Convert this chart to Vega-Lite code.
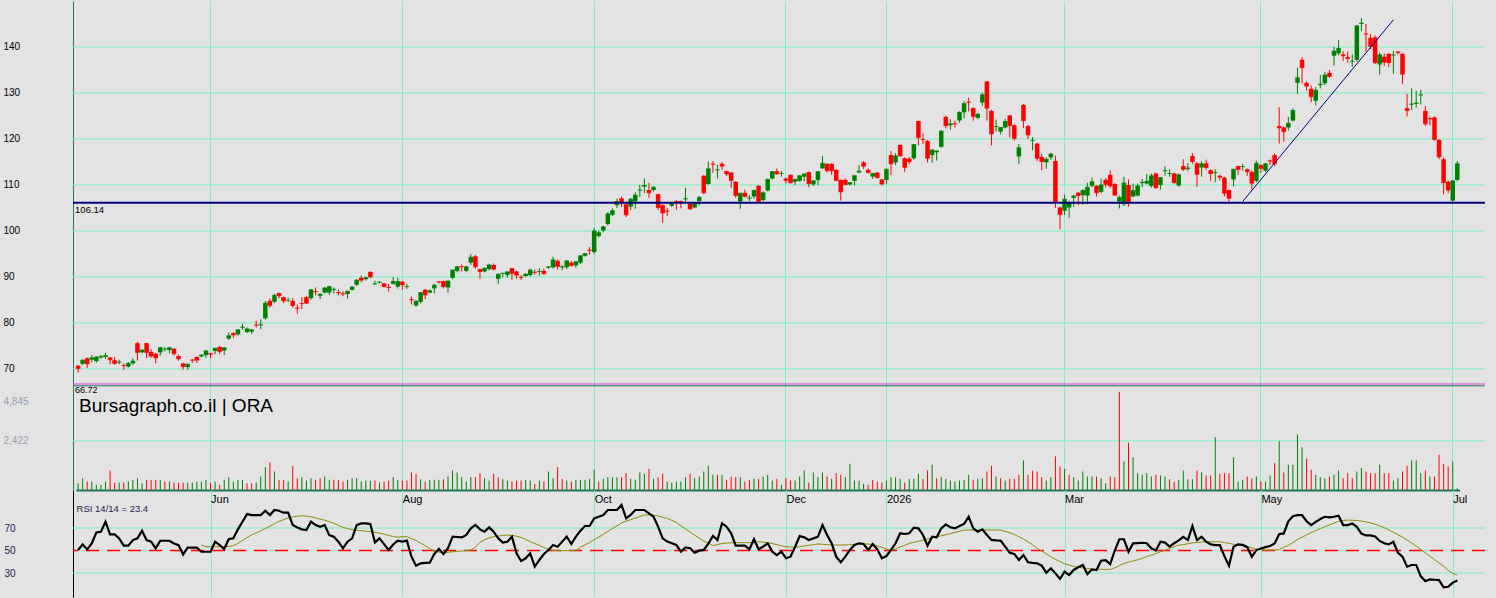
{
  "$schema": "https://vega.github.io/schema/vega-lite/v6.json",
  "background": "#e3e3e3",
  "padding": {"left": 3, "top": 1, "right": 11, "bottom": 1},
  "bounds": "flush",
  "spacing": 0,
  "datasets": {
    "px": [
      {"d":"2025-04-22","o":70.7,"h":70.9,"l":69.2,"c":70.1,"v":330,"r":50.4},
      {"d":"2025-04-23","o":71.1,"h":72.1,"l":70.8,"c":71.9,"v":580,"r":55.4},
      {"d":"2025-04-24","o":72.3,"h":72.5,"l":70.2,"c":71.1,"v":415,"r":51.0},
      {"d":"2025-04-25","o":72.0,"h":73.0,"l":71.4,"c":72.4,"v":415,"r":56.3},
      {"d":"2025-04-28","o":71.7,"h":72.7,"l":71.3,"c":72.6,"v":250,"r":66.1},
      {"d":"2025-04-29","o":72.5,"h":73.0,"l":72.2,"c":72.7,"v":250,"r":66.7},
      {"d":"2025-04-30","o":72.6,"h":73.5,"l":72.2,"c":72.9,"v":415,"r":75.6},
      {"d":"2025-05-01","o":72.5,"h":72.6,"l":71.0,"c":72.0,"v":960,"r":64.3},
      {"d":"2025-05-02","o":71.9,"h":72.6,"l":70.9,"c":71.2,"v":365,"r":64.3},
      {"d":"2025-05-05","o":71.4,"h":72.0,"l":71.0,"c":71.5,"v":365,"r":60.8},
      {"d":"2025-05-06","o":70.8,"h":71.2,"l":69.8,"c":70.7,"v":365,"r":54.3},
      {"d":"2025-05-07","o":70.5,"h":71.5,"l":70.3,"c":71.2,"v":415,"r":54.3},
      {"d":"2025-05-08","o":71.2,"h":72.3,"l":70.9,"c":71.7,"v":500,"r":59.3},
      {"d":"2025-05-09","o":75.6,"h":75.9,"l":71.8,"c":73.6,"v":580,"r":60.8},
      {"d":"2025-05-12","o":73.6,"h":74.3,"l":73.4,"c":74.1,"v":330,"r":67.6},
      {"d":"2025-05-13","o":75.6,"h":75.7,"l":72.3,"c":73.6,"v":500,"r":59.3},
      {"d":"2025-05-14","o":73.7,"h":74.3,"l":72.4,"c":72.8,"v":500,"r":57.8},
      {"d":"2025-05-15","o":73.3,"h":73.5,"l":71.2,"c":72.4,"v":500,"r":51.9},
      {"d":"2025-05-16","o":73.6,"h":74.8,"l":72.9,"c":74.6,"v":500,"r":58.7},
      {"d":"2025-05-19","o":74.3,"h":74.8,"l":73.8,"c":74.3,"v":415,"r":58.7},
      {"d":"2025-05-20","o":74.1,"h":74.8,"l":73.4,"c":74.6,"v":415,"r":58.7},
      {"d":"2025-05-21","o":74.4,"h":74.5,"l":72.9,"c":73.3,"v":365,"r":56.3},
      {"d":"2025-05-22","o":72.8,"h":73.1,"l":71.8,"c":72.2,"v":365,"r":54.8},
      {"d":"2025-05-23","o":71.2,"h":71.4,"l":69.8,"c":70.5,"v":365,"r":46.5},
      {"d":"2025-05-26","o":70.4,"h":71.2,"l":69.8,"c":71.0,"v":365,"r":52.5},
      {"d":"2025-05-27","o":72.0,"h":72.1,"l":71.3,"c":71.9,"v":365,"r":52.5},
      {"d":"2025-05-28","o":72.6,"h":72.7,"l":71.3,"c":71.9,"v":415,"r":52.5},
      {"d":"2025-05-29","o":72.7,"h":73.2,"l":72.5,"c":73.0,"v":415,"r":48.9,"m":54.8},
      {"d":"2025-05-30","o":73.0,"h":74.2,"l":72.4,"c":73.9,"v":500,"r":48.9,"m":53.4},
      {"d":"2025-06-03","o":73.4,"h":73.5,"l":72.3,"c":73.2,"v":365,"r":48.9,"m":53.4},
      {"d":"2025-06-04","o":73.9,"h":74.6,"l":73.2,"c":74.5,"v":415,"r":57.8,"m":53.4},
      {"d":"2025-06-05","o":74.8,"h":74.9,"l":73.2,"c":73.8,"v":250,"r":54.8,"m":53.4},
      {"d":"2025-06-06","o":74.0,"h":74.7,"l":73.0,"c":74.6,"v":500,"r":51.3,"m":53.4},
      {"d":"2025-06-09","o":76.6,"h":77.9,"l":76.3,"c":77.2,"v":630,"r":60.2,"m":53.6},
      {"d":"2025-06-10","o":77.8,"h":78.0,"l":76.8,"c":77.4,"v":415,"r":60.8,"m":54.2},
      {"d":"2025-06-11","o":77.5,"h":78.6,"l":77.2,"c":78.5,"v":500,"r":68.8,"m":56.3},
      {"d":"2025-06-12","o":79.0,"h":79.8,"l":78.5,"c":79.1,"v":500,"r":75.6,"m":58.9},
      {"d":"2025-06-13","o":78.0,"h":79.0,"l":77.8,"c":78.7,"v":330,"r":82.4,"m":61.5},
      {"d":"2025-06-16","o":78.1,"h":78.6,"l":77.6,"c":78.5,"v":330,"r":81.5,"m":63.9},
      {"d":"2025-06-17","o":79.6,"h":80.5,"l":79.0,"c":79.5,"v":365,"r":81.5,"m":65.7},
      {"d":"2025-06-18","o":79.5,"h":80.8,"l":78.6,"c":79.6,"v":665,"r":81.5,"m":67.5},
      {"d":"2025-06-19","o":81.0,"h":84.8,"l":80.7,"c":84.3,"v":1130,"r":85.4,"m":69.6},
      {"d":"2025-06-20","o":84.8,"h":85.3,"l":83.3,"c":83.8,"v":1360,"r":81.5,"m":71.6},
      {"d":"2025-06-23","o":84.6,"h":86.3,"l":84.3,"c":86.0,"v":910,"r":86.0,"m":73.9},
      {"d":"2025-06-24","o":86.5,"h":86.6,"l":85.3,"c":85.9,"v":500,"r":85.4,"m":75.9},
      {"d":"2025-06-25","o":85.6,"h":85.7,"l":84.3,"c":84.8,"v":500,"r":83.6,"m":77.4},
      {"d":"2025-06-26","o":84.9,"h":85.5,"l":84.5,"c":84.9,"v":415,"r":83.6,"m":78.9},
      {"d":"2025-06-27","o":84.8,"h":85.4,"l":83.3,"c":83.8,"v":1195,"r":72.6,"m":79.9},
      {"d":"2025-06-30","o":83.3,"h":84.0,"l":82.0,"c":83.2,"v":580,"r":70.5,"m":80.5},
      {"d":"2025-07-01","o":84.3,"h":85.6,"l":83.0,"c":84.2,"v":630,"r":68.8,"m":80.9},
      {"d":"2025-07-02","o":85.6,"h":85.8,"l":84.2,"c":84.3,"v":465,"r":68.2,"m":80.5},
      {"d":"2025-07-03","o":85.4,"h":87.4,"l":85.0,"c":87.2,"v":580,"r":75.6,"m":79.9},
      {"d":"2025-07-07","o":86.9,"h":87.7,"l":86.0,"c":86.8,"v":500,"r":72.6,"m":79.0},
      {"d":"2025-07-08","o":85.9,"h":86.5,"l":85.2,"c":86.2,"v":580,"r":71.1,"m":78.0},
      {"d":"2025-07-09","o":86.6,"h":87.8,"l":86.4,"c":87.6,"v":665,"r":72.6,"m":76.9},
      {"d":"2025-07-10","o":86.6,"h":88.1,"l":86.1,"c":87.9,"v":500,"r":63.7,"m":75.6},
      {"d":"2025-07-11","o":87.2,"h":87.7,"l":86.4,"c":87.3,"v":500,"r":62.2,"m":74.2},
      {"d":"2025-07-14","o":86.7,"h":87.3,"l":86.0,"c":86.6,"v":500,"r":57.8,"m":72.3},
      {"d":"2025-07-15","o":86.4,"h":86.9,"l":85.8,"c":86.3,"v":415,"r":51.9,"m":70.6},
      {"d":"2025-07-16","o":86.3,"h":87.0,"l":85.3,"c":86.9,"v":500,"r":57.8,"m":69.5},
      {"d":"2025-07-17","o":87.2,"h":88.0,"l":87.0,"c":87.8,"v":580,"r":60.8,"m":68.5},
      {"d":"2025-07-18","o":88.3,"h":89.5,"l":88.0,"c":89.3,"v":580,"r":72.6,"m":68.0},
      {"d":"2025-07-21","o":89.8,"h":90.3,"l":88.8,"c":89.3,"v":415,"r":74.1,"m":67.6},
      {"d":"2025-07-22","o":89.5,"h":90.1,"l":89.2,"c":89.8,"v":465,"r":74.1,"m":67.2},
      {"d":"2025-07-23","o":91.1,"h":91.2,"l":89.7,"c":90.0,"v":465,"r":73.5,"m":66.8},
      {"d":"2025-07-24","o":88.4,"h":89.2,"l":88.3,"c":88.5,"v":465,"r":57.2,"m":66.2},
      {"d":"2025-07-25","o":88.8,"h":89.0,"l":88.6,"c":88.9,"v":365,"r":60.8,"m":65.5},
      {"d":"2025-07-28","o":88.6,"h":88.7,"l":87.7,"c":87.9,"v":415,"r":55.7,"m":64.5},
      {"d":"2025-07-29","o":87.8,"h":88.5,"l":86.8,"c":87.7,"v":465,"r":50.4,"m":63.4},
      {"d":"2025-07-30","o":88.5,"h":90.0,"l":88.3,"c":89.0,"v":630,"r":55.4,"m":62.5},
      {"d":"2025-07-31","o":87.9,"h":89.8,"l":87.5,"c":89.0,"v":500,"r":58.7,"m":61.8},
      {"d":"2025-08-01","o":89.0,"h":89.1,"l":87.2,"c":88.3,"v":465,"r":57.9,"m":62.3},
      {"d":"2025-08-04","o":87.8,"h":88.5,"l":87.4,"c":87.9,"v":465,"r":58.8,"m":62.3},
      {"d":"2025-08-05","o":85.1,"h":85.7,"l":84.0,"c":85.0,"v":865,"r":44.5,"m":60.5},
      {"d":"2025-08-06","o":83.8,"h":85.0,"l":83.5,"c":84.7,"v":800,"r":36.5,"m":59.0},
      {"d":"2025-08-07","o":84.6,"h":86.7,"l":84.2,"c":86.6,"v":530,"r":38.6,"m":56.6},
      {"d":"2025-08-08","o":87.2,"h":87.4,"l":85.2,"c":86.1,"v":415,"r":39.0,"m":54.3},
      {"d":"2025-08-11","o":86.6,"h":87.3,"l":86.4,"c":87.0,"v":500,"r":39.2,"m":51.6},
      {"d":"2025-08-12","o":87.5,"h":88.5,"l":86.4,"c":88.2,"v":500,"r":47.0,"m":49.3},
      {"d":"2025-08-13","o":89.0,"h":89.1,"l":88.5,"c":88.9,"v":500,"r":51.4,"m":48.7},
      {"d":"2025-08-14","o":89.1,"h":89.2,"l":87.5,"c":87.9,"v":530,"r":46.9,"m":48.2},
      {"d":"2025-08-15","o":87.7,"h":89.3,"l":86.6,"c":89.1,"v":665,"r":52.0,"m":48.4},
      {"d":"2025-08-18","o":89.8,"h":91.6,"l":89.5,"c":91.5,"v":960,"r":62.3,"m":48.9},
      {"d":"2025-08-19","o":91.3,"h":92.4,"l":91.0,"c":92.2,"v":865,"r":62.0,"m":49.3},
      {"d":"2025-08-20","o":92.3,"h":92.7,"l":91.2,"c":92.2,"v":630,"r":61.7,"m":49.6},
      {"d":"2025-08-21","o":91.3,"h":92.4,"l":91.0,"c":92.2,"v":415,"r":63.8,"m":50.0},
      {"d":"2025-08-22","o":93.1,"h":95.0,"l":92.6,"c":94.3,"v":630,"r":69.7,"m":50.4},
      {"d":"2025-08-25","o":94.5,"h":94.8,"l":91.8,"c":92.2,"v":630,"r":72.7,"m":53.0},
      {"d":"2025-08-26","o":91.7,"h":91.8,"l":89.6,"c":91.2,"v":830,"r":68.8,"m":57.2},
      {"d":"2025-08-27","o":91.2,"h":92.0,"l":91.0,"c":91.9,"v":580,"r":66.8,"m":59.5},
      {"d":"2025-08-28","o":91.7,"h":92.9,"l":91.4,"c":92.6,"v":465,"r":70.6,"m":61.2},
      {"d":"2025-08-29","o":92.6,"h":92.9,"l":91.4,"c":91.7,"v":800,"r":66.8,"m":62.3},
      {"d":"2025-09-01","o":89.6,"h":90.7,"l":88.5,"c":90.6,"v":630,"r":60.8,"m":62.9},
      {"d":"2025-09-02","o":90.7,"h":90.9,"l":89.9,"c":90.8,"v":530,"r":57.0,"m":63.4},
      {"d":"2025-09-03","o":90.4,"h":91.2,"l":89.8,"c":91.1,"v":465,"r":57.9,"m":63.8},
      {"d":"2025-09-04","o":91.9,"h":92.0,"l":89.4,"c":90.8,"v":415,"r":62.3,"m":63.4},
      {"d":"2025-09-05","o":91.2,"h":91.3,"l":89.6,"c":90.4,"v":465,"r":47.5,"m":62.7},
      {"d":"2025-09-08","o":90.0,"h":90.4,"l":89.3,"c":89.9,"v":465,"r":40.7,"m":61.6},
      {"d":"2025-09-09","o":90.2,"h":90.8,"l":90.0,"c":90.6,"v":500,"r":43.1,"m":59.9},
      {"d":"2025-09-10","o":90.4,"h":91.8,"l":90.1,"c":91.5,"v":465,"r":47.5,"m":57.8},
      {"d":"2025-09-11","o":91.1,"h":91.6,"l":90.5,"c":91.0,"v":300,"r":35.7,"m":56.3},
      {"d":"2025-09-12","o":91.1,"h":91.9,"l":90.3,"c":91.2,"v":465,"r":41.6,"m":54.5},
      {"d":"2025-09-15","o":91.3,"h":91.8,"l":90.5,"c":90.7,"v":415,"r":46.9,"m":52.7},
      {"d":"2025-09-16","o":92.0,"h":92.4,"l":91.8,"c":92.2,"v":910,"r":50.5,"m":51.1},
      {"d":"2025-09-17","o":92.1,"h":94.4,"l":91.8,"c":93.7,"v":580,"r":54.9,"m":50.2},
      {"d":"2025-09-18","o":93.5,"h":93.8,"l":91.6,"c":92.3,"v":1130,"r":53.4,"m":49.9},
      {"d":"2025-09-19","o":92.1,"h":92.6,"l":91.4,"c":92.2,"v":550,"r":57.9,"m":49.9},
      {"d":"2025-09-22","o":92.1,"h":93.6,"l":91.7,"c":93.5,"v":465,"r":62.3,"m":49.9},
      {"d":"2025-09-24","o":93.1,"h":93.5,"l":92.2,"c":92.5,"v":415,"r":55.8,"m":49.9},
      {"d":"2025-09-25","o":92.5,"h":93.4,"l":92.0,"c":93.3,"v":500,"r":62.3,"m":49.9},
      {"d":"2025-09-26","o":93.1,"h":94.7,"l":92.8,"c":94.6,"v":500,"r":67.7,"m":53.0},
      {"d":"2025-09-29","o":94.6,"h":95.2,"l":94.4,"c":95.1,"v":500,"r":71.8,"m":55.0},
      {"d":"2025-09-30","o":95.9,"h":96.5,"l":94.8,"c":95.8,"v":550,"r":71.8,"m":57.0},
      {"d":"2025-10-01","o":95.4,"h":100.7,"l":95.0,"c":100.0,"v":1000,"r":78.6,"m":59.6},
      {"d":"2025-10-03","o":98.9,"h":100.1,"l":98.6,"c":99.6,"v":415,"r":80.1,"m":61.8},
      {"d":"2025-10-06","o":100.1,"h":101.1,"l":99.7,"c":100.9,"v":550,"r":81.6,"m":64.4},
      {"d":"2025-10-07","o":101.5,"h":104.1,"l":101.2,"c":103.7,"v":630,"r":86.0,"m":67.0},
      {"d":"2025-10-08","o":103.5,"h":104.9,"l":103.2,"c":104.4,"v":630,"r":86.0,"m":69.5},
      {"d":"2025-10-09","o":105.6,"h":107.0,"l":105.0,"c":106.4,"v":630,"r":86.0,"m":72.0},
      {"d":"2025-10-10","o":107.1,"h":107.5,"l":105.2,"c":106.2,"v":630,"r":90.5,"m":74.6},
      {"d":"2025-10-13","o":105.8,"h":106.2,"l":103.0,"c":103.5,"v":830,"r":78.6,"m":76.1},
      {"d":"2025-10-14","o":105.3,"h":107.2,"l":104.5,"c":106.9,"v":550,"r":81.6,"m":77.5},
      {"d":"2025-10-15","o":106.4,"h":108.4,"l":104.8,"c":107.8,"v":500,"r":86.0,"m":78.7},
      {"d":"2025-10-16","o":108.8,"h":110.0,"l":107.4,"c":108.9,"v":865,"r":86.0,"m":80.2},
      {"d":"2025-10-17","o":109.6,"h":111.4,"l":108.2,"c":109.9,"v":800,"r":86.0,"m":81.6},
      {"d":"2025-10-20","o":108.9,"h":110.5,"l":107.2,"c":108.3,"v":1045,"r":83.0,"m":81.6},
      {"d":"2025-10-21","o":108.9,"h":109.7,"l":108.6,"c":109.5,"v":550,"r":80.1,"m":81.6},
      {"d":"2025-10-22","o":108.0,"h":108.1,"l":104.6,"c":105.1,"v":630,"r":71.2,"m":80.6},
      {"d":"2025-10-23","o":105.6,"h":105.8,"l":101.8,"c":103.9,"v":800,"r":60.8,"m":79.6},
      {"d":"2025-10-24","o":104.4,"h":105.0,"l":103.2,"c":104.3,"v":415,"r":57.9,"m":78.6},
      {"d":"2025-10-27","o":105.5,"h":106.0,"l":105.2,"c":105.9,"v":365,"r":56.5,"m":76.8},
      {"d":"2025-10-28","o":106.5,"h":106.7,"l":104.6,"c":106.4,"v":415,"r":54.9,"m":75.0},
      {"d":"2025-10-29","o":106.5,"h":106.6,"l":104.9,"c":106.4,"v":415,"r":49.0,"m":71.9},
      {"d":"2025-10-30","o":106.9,"h":109.4,"l":106.0,"c":107.0,"v":630,"r":52.8,"m":69.2},
      {"d":"2025-10-31","o":105.9,"h":106.1,"l":104.6,"c":104.8,"v":800,"r":52.0,"m":66.5},
      {"d":"2025-11-03","o":105.1,"h":106.3,"l":105.0,"c":106.0,"v":580,"r":48.1,"m":63.6},
      {"d":"2025-11-04","o":106.5,"h":107.6,"l":105.5,"c":107.3,"v":665,"r":49.9,"m":61.0},
      {"d":"2025-11-05","o":112.0,"h":112.2,"l":108.0,"c":108.3,"v":910,"r":50.5,"m":58.3},
      {"d":"2025-11-06","o":110.2,"h":115.1,"l":110.0,"c":113.5,"v":1195,"r":56.0,"m":56.6},
      {"d":"2025-11-07","o":114.6,"h":115.2,"l":112.6,"c":114.5,"v":750,"r":62.9,"m":54.4},
      {"d":"2025-11-10","o":113.2,"h":114.4,"l":111.4,"c":113.3,"v":750,"r":59.4,"m":55.3},
      {"d":"2025-11-11","o":114.6,"h":115.0,"l":113.3,"c":114.1,"v":750,"r":74.2,"m":56.2},
      {"d":"2025-11-12","o":113.0,"h":113.1,"l":112.0,"c":112.4,"v":500,"r":71.2,"m":56.6},
      {"d":"2025-11-13","o":112.7,"h":112.8,"l":109.4,"c":111.0,"v":665,"r":65.3,"m":56.9},
      {"d":"2025-11-14","o":110.7,"h":110.8,"l":107.2,"c":107.7,"v":630,"r":54.3,"m":57.0},
      {"d":"2025-11-17","o":106.4,"h":108.3,"l":104.8,"c":108.2,"v":630,"r":54.3,"m":57.0},
      {"d":"2025-11-18","o":108.3,"h":109.0,"l":107.3,"c":107.5,"v":415,"r":54.3,"m":57.0},
      {"d":"2025-11-19","o":107.1,"h":107.8,"l":106.5,"c":107.2,"v":500,"r":51.1,"m":57.0},
      {"d":"2025-11-20","o":107.5,"h":109.0,"l":107.0,"c":108.8,"v":550,"r":60.0,"m":57.0},
      {"d":"2025-11-21","o":109.8,"h":110.0,"l":106.2,"c":106.4,"v":550,"r":51.1,"m":57.9},
      {"d":"2025-11-24","o":106.7,"h":108.6,"l":106.5,"c":108.3,"v":665,"r":53.4,"m":57.4},
      {"d":"2025-11-25","o":108.8,"h":111.4,"l":108.6,"c":111.2,"v":750,"r":56.4,"m":56.9},
      {"d":"2025-11-26","o":111.4,"h":113.0,"l":111.2,"c":112.9,"v":465,"r":49.0,"m":56.2},
      {"d":"2025-11-27","o":113.0,"h":113.6,"l":112.2,"c":112.4,"v":550,"r":46.0,"m":55.2},
      {"d":"2025-11-28","o":112.5,"h":113.0,"l":111.8,"c":112.5,"v":250,"r":49.0,"m":54.2},
      {"d":"2025-12-01","o":111.4,"h":111.6,"l":110.3,"c":111.0,"v":580,"r":43.1,"m":53.4},
      {"d":"2025-12-02","o":112.2,"h":112.3,"l":110.3,"c":110.5,"v":465,"r":44.5,"m":53.1},
      {"d":"2025-12-03","o":110.7,"h":111.4,"l":110.0,"c":111.2,"v":465,"r":53.4,"m":52.8},
      {"d":"2025-12-04","o":110.9,"h":112.1,"l":110.7,"c":112.0,"v":665,"r":62.9,"m":53.4},
      {"d":"2025-12-05","o":111.8,"h":112.5,"l":110.8,"c":112.4,"v":960,"r":61.7,"m":54.0},
      {"d":"2025-12-08","o":112.8,"h":112.9,"l":109.5,"c":110.3,"v":365,"r":59.4,"m":54.6},
      {"d":"2025-12-09","o":110.1,"h":111.0,"l":109.8,"c":110.9,"v":865,"r":60.8,"m":55.2},
      {"d":"2025-12-10","o":111.1,"h":113.0,"l":110.0,"c":112.9,"v":630,"r":62.3,"m":55.8},
      {"d":"2025-12-11","o":113.6,"h":116.3,"l":113.5,"c":114.7,"v":865,"r":72.7,"m":55.5},
      {"d":"2025-12-12","o":114.6,"h":114.7,"l":112.8,"c":113.1,"v":665,"r":63.8,"m":55.2},
      {"d":"2025-12-15","o":114.6,"h":114.7,"l":112.2,"c":113.1,"v":550,"r":56.4,"m":54.9},
      {"d":"2025-12-16","o":113.3,"h":113.4,"l":110.8,"c":111.0,"v":830,"r":44.5,"m":54.9},
      {"d":"2025-12-17","o":111.1,"h":111.2,"l":106.6,"c":108.5,"v":750,"r":39.5,"m":54.9},
      {"d":"2025-12-18","o":111.1,"h":111.4,"l":109.9,"c":110.1,"v":630,"r":44.5,"m":54.9},
      {"d":"2025-12-19","o":110.1,"h":110.6,"l":109.9,"c":110.5,"v":1295,"r":50.5,"m":55.2},
      {"d":"2025-12-22","o":110.9,"h":112.1,"l":109.9,"c":112.0,"v":465,"r":54.9,"m":55.5},
      {"d":"2025-12-23","o":112.7,"h":114.3,"l":112.6,"c":113.0,"v":465,"r":56.4,"m":55.8},
      {"d":"2025-12-24","o":114.9,"h":115.2,"l":113.5,"c":114.1,"v":300,"r":55.8,"m":55.8},
      {"d":"2025-12-26","o":113.3,"h":113.6,"l":112.5,"c":112.7,"v":250,"r":50.5,"m":55.8},
      {"d":"2025-12-29","o":111.8,"h":112.6,"l":111.3,"c":112.5,"v":500,"r":55.8,"m":55.3},
      {"d":"2025-12-30","o":112.7,"h":112.8,"l":111.4,"c":111.6,"v":415,"r":51.1,"m":54.1},
      {"d":"2025-12-31","o":111.2,"h":111.3,"l":109.9,"c":110.2,"v":365,"r":43.1,"m":52.8},
      {"d":"2026-01-02","o":111.1,"h":113.6,"l":110.2,"c":113.4,"v":465,"r":45.1,"m":51.2},
      {"d":"2026-01-05","o":116.5,"h":117.4,"l":112.1,"c":114.6,"v":630,"r":50.5,"m":49.9},
      {"d":"2026-01-06","o":114.9,"h":116.9,"l":114.3,"c":116.3,"v":630,"r":56.4,"m":51.5},
      {"d":"2026-01-07","o":118.7,"h":118.8,"l":116.2,"c":116.3,"v":550,"r":65.3,"m":53.1},
      {"d":"2026-01-08","o":115.8,"h":116.0,"l":112.8,"c":113.8,"v":365,"r":64.7,"m":54.6},
      {"d":"2026-01-09","o":115.7,"h":116.1,"l":114.5,"c":115.1,"v":550,"r":65.3,"m":56.3},
      {"d":"2026-01-12","o":115.8,"h":118.9,"l":115.5,"c":118.8,"v":550,"r":70.3,"m":57.3},
      {"d":"2026-01-13","o":123.9,"h":124.0,"l":118.6,"c":120.3,"v":800,"r":69.7,"m":58.2},
      {"d":"2026-01-14","o":120.0,"h":121.2,"l":118.9,"c":119.9,"v":550,"r":63.8,"m":59.1},
      {"d":"2026-01-15","o":119.6,"h":119.8,"l":114.9,"c":115.8,"v":960,"r":54.3,"m":60.2},
      {"d":"2026-01-16","o":116.5,"h":117.8,"l":114.8,"c":117.6,"v":1245,"r":62.3,"m":61.2},
      {"d":"2026-01-20","o":117.1,"h":117.5,"l":115.3,"c":117.4,"v":580,"r":61.7,"m":62.1},
      {"d":"2026-01-21","o":118.3,"h":121.8,"l":118.1,"c":121.7,"v":630,"r":69.7,"m":63.1},
      {"d":"2026-01-22","o":124.8,"h":125.1,"l":122.3,"c":122.9,"v":550,"r":73.3,"m":64.1},
      {"d":"2026-01-23","o":123.0,"h":124.3,"l":122.0,"c":123.3,"v":465,"r":70.6,"m":65.1},
      {"d":"2026-01-26","o":123.4,"h":124.0,"l":122.5,"c":123.3,"v":415,"r":69.7,"m":66.1},
      {"d":"2026-01-27","o":124.0,"h":126.0,"l":123.5,"c":125.8,"v":465,"r":71.8,"m":67.1},
      {"d":"2026-01-28","o":125.8,"h":128.2,"l":124.5,"c":127.7,"v":500,"r":73.6,"m":68.1},
      {"d":"2026-01-29","o":128.1,"h":129.0,"l":126.0,"c":128.0,"v":750,"r":80.1,"m":68.2},
      {"d":"2026-01-30","o":126.7,"h":126.9,"l":124.0,"c":124.9,"v":500,"r":69.7,"m":68.2},
      {"d":"2026-02-02","o":124.6,"h":125.6,"l":124.3,"c":125.4,"v":550,"r":66.8,"m":68.2},
      {"d":"2026-02-03","o":127.9,"h":130.1,"l":127.2,"c":129.6,"v":580,"r":68.8,"m":68.2},
      {"d":"2026-02-04","o":132.5,"h":132.6,"l":124.0,"c":126.7,"v":910,"r":63.8,"m":68.2},
      {"d":"2026-02-05","o":126.1,"h":126.4,"l":118.6,"c":121.1,"v":1195,"r":59.4,"m":68.2},
      {"d":"2026-02-06","o":122.6,"h":124.2,"l":121.6,"c":122.7,"v":665,"r":59.0,"m":68.2},
      {"d":"2026-02-09","o":121.6,"h":122.6,"l":121.0,"c":122.5,"v":580,"r":58.8,"m":68.2},
      {"d":"2026-02-10","o":122.5,"h":124.4,"l":122.3,"c":123.8,"v":465,"r":53.4,"m":67.0},
      {"d":"2026-02-11","o":125.1,"h":125.2,"l":120.3,"c":122.9,"v":550,"r":48.0,"m":65.8},
      {"d":"2026-02-12","o":123.0,"h":123.2,"l":119.6,"c":120.1,"v":550,"r":46.9,"m":64.2},
      {"d":"2026-02-13","o":116.2,"h":118.9,"l":114.6,"c":118.1,"v":750,"r":41.6,"m":62.3},
      {"d":"2026-02-17","o":127.4,"h":127.6,"l":122.4,"c":124.0,"v":1460,"r":46.0,"m":60.2},
      {"d":"2026-02-18","o":122.8,"h":123.1,"l":120.0,"c":120.9,"v":750,"r":39.5,"m":57.8},
      {"d":"2026-02-19","o":119.6,"h":120.4,"l":117.5,"c":119.7,"v":960,"r":39.0,"m":55.1},
      {"d":"2026-02-20","o":119.0,"h":119.2,"l":115.2,"c":115.8,"v":910,"r":38.6,"m":51.9},
      {"d":"2026-02-23","o":116.1,"h":116.8,"l":113.2,"c":115.1,"v":630,"r":36.5,"m":49.5},
      {"d":"2026-02-24","o":114.9,"h":116.0,"l":113.5,"c":115.6,"v":465,"r":30.3,"m":47.0},
      {"d":"2026-02-25","o":116.0,"h":117.0,"l":115.5,"c":116.7,"v":630,"r":34.2,"m":44.5},
      {"d":"2026-02-26","o":115.2,"h":116.4,"l":105.0,"c":106.2,"v":1660,"r":29.7,"m":42.2},
      {"d":"2026-02-27","o":105.1,"h":105.3,"l":100.4,"c":103.6,"v":1160,"r":24.7,"m":40.2},
      {"d":"2026-03-02","o":104.4,"h":107.9,"l":103.5,"c":106.9,"v":1045,"r":31.2,"m":38.3},
      {"d":"2026-03-03","o":105.1,"h":106.6,"l":102.8,"c":106.1,"v":750,"r":28.2,"m":37.0},
      {"d":"2026-03-04","o":107.2,"h":107.9,"l":105.2,"c":107.6,"v":630,"r":32.7,"m":35.9},
      {"d":"2026-03-05","o":108.3,"h":108.5,"l":105.6,"c":107.7,"v":465,"r":35.1,"m":35.2},
      {"d":"2026-03-06","o":107.8,"h":109.1,"l":105.7,"c":108.8,"v":910,"r":37.1,"m":34.5},
      {"d":"2026-03-09","o":107.7,"h":110.5,"l":105.8,"c":109.5,"v":665,"r":29.1,"m":34.0},
      {"d":"2026-03-10","o":109.8,"h":111.6,"l":109.5,"c":110.7,"v":665,"r":33.3,"m":33.6},
      {"d":"2026-03-11","o":109.8,"h":109.9,"l":107.5,"c":108.3,"v":665,"r":32.7,"m":33.3},
      {"d":"2026-03-12","o":108.5,"h":111.4,"l":108.2,"c":110.0,"v":580,"r":40.9,"m":33.3},
      {"d":"2026-03-13","o":111.1,"h":111.5,"l":109.5,"c":110.1,"v":330,"r":41.5,"m":33.2},
      {"d":"2026-03-16","o":112.2,"h":113.2,"l":109.4,"c":109.8,"v":665,"r":38.0,"m":33.2},
      {"d":"2026-03-17","o":110.2,"h":110.4,"l":107.6,"c":107.8,"v":630,"r":50.0,"m":34.6},
      {"d":"2026-03-18","o":106.4,"h":107.7,"l":104.9,"c":107.3,"v":4845,"r":60.0,"m":36.6},
      {"d":"2026-03-19","o":105.8,"h":111.8,"l":105.4,"c":110.4,"v":1410,"r":60.0,"m":38.5},
      {"d":"2026-03-20","o":110.0,"h":111.2,"l":105.3,"c":106.0,"v":2325,"r":48.9,"m":39.7},
      {"d":"2026-03-23","o":107.5,"h":110.3,"l":107.3,"c":108.8,"v":1610,"r":56.3,"m":40.7},
      {"d":"2026-03-24","o":107.7,"h":110.3,"l":107.5,"c":109.8,"v":830,"r":56.6,"m":41.7},
      {"d":"2026-03-25","o":110.4,"h":111.3,"l":109.5,"c":110.6,"v":750,"r":56.9,"m":43.0},
      {"d":"2026-03-26","o":110.3,"h":112.4,"l":110.1,"c":110.8,"v":830,"r":56.5,"m":44.6},
      {"d":"2026-03-27","o":109.8,"h":112.5,"l":109.4,"c":112.0,"v":665,"r":52.0,"m":45.9},
      {"d":"2026-03-30","o":112.5,"h":112.7,"l":109.2,"c":109.4,"v":750,"r":50.0,"m":47.4},
      {"d":"2026-03-31","o":110.0,"h":111.7,"l":109.0,"c":111.6,"v":715,"r":57.8,"m":48.9},
      {"d":"2026-04-01","o":113.0,"h":114.1,"l":112.0,"c":113.1,"v":665,"r":57.0,"m":50.1},
      {"d":"2026-04-03","o":112.4,"h":113.4,"l":111.8,"c":112.5,"v":530,"r":53.5,"m":51.9},
      {"d":"2026-04-06","o":112.5,"h":112.7,"l":110.3,"c":110.5,"v":415,"r":56.5,"m":53.5},
      {"d":"2026-04-07","o":109.9,"h":112.5,"l":109.6,"c":112.2,"v":500,"r":59.0,"m":54.7},
      {"d":"2026-04-08","o":114.1,"h":115.6,"l":113.0,"c":113.4,"v":960,"r":62.2,"m":55.3},
      {"d":"2026-04-09","o":113.5,"h":114.8,"l":113.0,"c":113.7,"v":530,"r":59.3,"m":56.0},
      {"d":"2026-04-10","o":116.3,"h":116.9,"l":114.6,"c":115.1,"v":530,"r":71.7,"m":56.8},
      {"d":"2026-04-13","o":114.7,"h":115.0,"l":109.6,"c":112.3,"v":960,"r":59.3,"m":57.1},
      {"d":"2026-04-14","o":113.8,"h":115.2,"l":111.8,"c":114.6,"v":865,"r":62.2,"m":57.5},
      {"d":"2026-04-15","o":114.7,"h":115.5,"l":113.3,"c":113.8,"v":715,"r":57.8,"m":57.8},
      {"d":"2026-04-16","o":113.2,"h":113.4,"l":110.8,"c":112.5,"v":715,"r":55.5,"m":57.8},
      {"d":"2026-04-17","o":112.6,"h":113.4,"l":110.6,"c":112.7,"v":2605,"r":54.8,"m":57.8},
      {"d":"2026-04-20","o":112.0,"h":112.2,"l":111.0,"c":111.7,"v":800,"r":54.8,"m":57.8},
      {"d":"2026-04-21","o":111.6,"h":111.8,"l":107.5,"c":108.2,"v":830,"r":45.0,"m":57.1},
      {"d":"2026-04-22","o":108.9,"h":109.0,"l":106.3,"c":107.1,"v":830,"r":36.5,"m":56.4},
      {"d":"2026-04-23","o":111.2,"h":113.5,"l":109.7,"c":113.4,"v":1610,"r":53.4,"m":55.6},
      {"d":"2026-04-24","o":114.1,"h":114.2,"l":112.2,"c":113.4,"v":415,"r":55.5,"m":55.0},
      {"d":"2026-04-27","o":113.9,"h":114.6,"l":113.1,"c":114.0,"v":500,"r":55.0,"m":54.4},
      {"d":"2026-04-28","o":113.4,"h":113.6,"l":112.0,"c":112.9,"v":665,"r":53.0,"m":53.6},
      {"d":"2026-04-29","o":112.8,"h":113.2,"l":109.1,"c":110.4,"v":580,"r":44.5,"m":52.4},
      {"d":"2026-04-30","o":110.9,"h":115.3,"l":110.6,"c":114.7,"v":665,"r":50.4,"m":51.2},
      {"d":"2026-05-01","o":114.3,"h":114.5,"l":112.6,"c":113.6,"v":415,"r":51.8,"m":50.7},
      {"d":"2026-05-04","o":113.1,"h":114.8,"l":112.8,"c":114.6,"v":415,"r":53.0,"m":50.4},
      {"d":"2026-05-05","o":115.3,"h":115.5,"l":114.3,"c":115.2,"v":715,"r":54.0,"m":50.4},
      {"d":"2026-05-06","o":116.5,"h":116.8,"l":114.1,"c":114.6,"v":1330,"r":56.3,"m":50.4},
      {"d":"2026-05-07","o":122.8,"h":126.9,"l":119.0,"c":122.4,"v":2410,"r":64.6,"m":50.8},
      {"d":"2026-05-08","o":122.5,"h":122.7,"l":119.4,"c":121.6,"v":865,"r":65.2,"m":52.8},
      {"d":"2026-05-11","o":122.5,"h":124.8,"l":121.8,"c":123.4,"v":1245,"r":76.0,"m":54.6},
      {"d":"2026-05-12","o":124.0,"h":126.6,"l":123.8,"c":126.2,"v":1245,"r":80.5,"m":57.0},
      {"d":"2026-05-13","o":132.2,"h":135.5,"l":129.8,"c":133.3,"v":2740,"r":81.5,"m":59.9},
      {"d":"2026-05-14","o":137.2,"h":137.8,"l":132.1,"c":135.5,"v":2110,"r":81.5,"m":61.8},
      {"d":"2026-05-15","o":132.2,"h":132.5,"l":130.5,"c":131.5,"v":1545,"r":76.0,"m":63.9},
      {"d":"2026-05-18","o":130.9,"h":131.6,"l":128.0,"c":129.2,"v":1000,"r":72.5,"m":66.0},
      {"d":"2026-05-19","o":128.3,"h":131.3,"l":127.3,"c":130.6,"v":750,"r":75.5,"m":67.6},
      {"d":"2026-05-20","o":131.7,"h":133.9,"l":131.0,"c":131.9,"v":630,"r":78.0,"m":69.4},
      {"d":"2026-05-21","o":132.1,"h":134.6,"l":131.7,"c":133.9,"v":580,"r":80.0,"m":71.2},
      {"d":"2026-05-25","o":134.4,"h":135.0,"l":133.3,"c":133.6,"v":665,"r":79.4,"m":72.8},
      {"d":"2026-05-26","o":138.1,"h":140.0,"l":136.0,"c":139.1,"v":750,"r":80.0,"m":74.4},
      {"d":"2026-05-27","o":138.6,"h":141.5,"l":138.2,"c":139.7,"v":960,"r":80.9,"m":76.0},
      {"d":"2026-05-28","o":138.4,"h":139.1,"l":137.0,"c":138.1,"v":580,"r":72.6,"m":76.7},
      {"d":"2026-05-29","o":137.8,"h":139.0,"l":136.6,"c":137.5,"v":830,"r":72.6,"m":77.0},
      {"d":"2026-06-01","o":136.8,"h":138.4,"l":135.7,"c":136.9,"v":580,"r":74.0,"m":76.9},
      {"d":"2026-06-02","o":137.2,"h":144.8,"l":136.8,"c":144.6,"v":910,"r":71.1,"m":76.6},
      {"d":"2026-06-03","o":145.0,"h":146.3,"l":143.5,"c":145.2,"v":1080,"r":65.0,"m":76.2},
      {"d":"2026-06-04","o":142.9,"h":145.0,"l":139.0,"c":142.8,"v":910,"r":63.4,"m":75.4},
      {"d":"2026-06-05","o":142.0,"h":142.8,"l":139.5,"c":140.1,"v":830,"r":63.5,"m":74.6},
      {"d":"2026-06-08","o":142.1,"h":142.5,"l":136.3,"c":136.6,"v":830,"r":62.5,"m":73.3},
      {"d":"2026-06-09","o":136.2,"h":138.8,"l":134.0,"c":138.3,"v":1245,"r":58.5,"m":71.8},
      {"d":"2026-06-10","o":137.9,"h":138.6,"l":135.9,"c":136.7,"v":830,"r":56.5,"m":70.3},
      {"d":"2026-06-11","o":138.5,"h":138.7,"l":135.6,"c":136.6,"v":830,"r":55.4,"m":68.3},
      {"d":"2026-06-12","o":138.2,"h":139.2,"l":134.2,"c":138.3,"v":465,"r":57.8,"m":66.2},
      {"d":"2026-06-15","o":139.0,"h":139.1,"l":138.4,"c":138.8,"v":580,"r":48.0,"m":64.1},
      {"d":"2026-06-16","o":138.5,"h":138.7,"l":132.0,"c":134.1,"v":910,"r":44.5,"m":61.9},
      {"d":"2026-06-17","o":126.7,"h":129.8,"l":124.9,"c":126.2,"v":1195,"r":35.6,"m":59.4},
      {"d":"2026-06-18","o":127.5,"h":131.0,"l":126.3,"c":127.6,"v":1460,"r":37.1,"m":56.7},
      {"d":"2026-06-19","o":127.6,"h":130.5,"l":126.8,"c":127.8,"v":1460,"r":37.1,"m":53.9},
      {"d":"2026-06-22","o":129.5,"h":130.7,"l":127.5,"c":129.6,"v":830,"r":27.0,"m":50.9},
      {"d":"2026-06-23","o":126.1,"h":127.2,"l":122.8,"c":123.3,"v":960,"r":22.8,"m":47.9},
      {"d":"2026-06-24","o":124.5,"h":124.9,"l":123.0,"c":124.4,"v":665,"r":24.3,"m":44.9},
      {"d":"2026-06-25","o":124.7,"h":124.9,"l":119.6,"c":119.9,"v":665,"r":24.0,"m":41.9},
      {"d":"2026-06-26","o":119.8,"h":120.0,"l":115.6,"c":116.1,"v":1745,"r":23.7,"m":38.9},
      {"d":"2026-06-29","o":115.6,"h":116.0,"l":108.0,"c":110.5,"v":1295,"r":17.2,"m":36.0},
      {"d":"2026-06-30","o":110.7,"h":111.0,"l":108.2,"c":108.9,"v":1160,"r":17.8,"m":32.4},
      {"d":"2026-07-01","o":106.6,"h":111.0,"l":106.2,"c":110.9,"v":1410,"r":21.5,"m":29.5},
      {"d":"2026-07-02","o":111.1,"h":115.2,"l":110.8,"c":114.6,"v":80,"r":23.4,"m":28.2}
    ],
    "trend": [
      {"d": "2026-04-27", "p": 106.4},
      {"d": "2026-06-12", "p": 145.9}
    ]
  },
  "vconcat": [
    {
      "width": 1412,
      "height": 384,
      "layer": [
        {
          "data": {"values": [{"g": 70}, {"g": 80}, {"g": 90}, {"g": 100}, {"g": 110}, {"g": 120}, {"g": 130}, {"g": 140}]},
          "mark": {"type": "rule", "color": "#74f2c0", "strokeWidth": 1},
          "encoding": {"y": {"field": "g", "type": "quantitative"}}
        },
        {
          "data": {"name": "px"},
          "mark": {"type": "rule", "strokeWidth": 1},
          "encoding": {
            "x": {
              "field": "d", "type": "ordinal",
              "scale": {"range": [2.8, 1386.6], "paddingInner": 0, "paddingOuter": 0},
              "axis": {
                "title": null, "grid": true, "gridColor": "#74f2c0", "labels": false, "domain": false, "ticks": false,
                "values": ["2025-06-03", "2025-08-01", "2025-10-01", "2025-12-01", "2026-01-02", "2026-03-02", "2026-05-01", "2026-07-01"]
              }
            },
            "y": {
              "field": "l", "type": "quantitative",
              "scale": {"domain": [66.5, 150], "nice": false, "zero": false},
              "axis": {
                "title": null, "values": [70, 80, 90, 100, 110, 120, 130, 140], "grid": false,
                "labelAlign": "left", "labelPadding": 70, "labelColor": "#000000",
                "domain": true, "domainColor": "#1f7a5c"
              }
            },
            "y2": {"field": "h"},
            "color": {"condition": {"test": "datum.c >= datum.o", "value": "#008000"}, "value": "#ff0000"}
          }
        },
        {
          "data": {"name": "px"},
          "mark": {"type": "bar", "width": 4.5},
          "encoding": {
            "x": {"field": "d", "type": "ordinal"},
            "y": {"field": "o", "type": "quantitative"},
            "y2": {"field": "c"},
            "color": {"condition": {"test": "datum.c >= datum.o", "value": "#008000"}, "value": "#ff0000"}
          }
        },
        {
          "data": {"name": "px"},
          "mark": {"type": "tick", "thickness": 1, "size": 4.5},
          "encoding": {
            "x": {"field": "d", "type": "ordinal"},
            "y": {"field": "c", "type": "quantitative"},
            "color": {"condition": {"test": "datum.c >= datum.o", "value": "#008000"}, "value": "#ff0000"}
          }
        },
        {
          "data": {"values": [{}]},
          "mark": {"type": "rule", "color": "#000080", "strokeWidth": 2},
          "encoding": {"y": {"datum": 106.14}}
        },
        {
          "data": {"values": [{}]},
          "mark": {"type": "text", "align": "left", "baseline": "middle", "dx": -3, "dy": 7, "fontSize": 9.5, "color": "#000000"},
          "encoding": {
            "x": {"datum": "2025-04-22", "type": "ordinal"},
            "y": {"datum": 106.14},
            "text": {"value": "106.14"}
          }
        },
        {
          "data": {"values": [{}]},
          "mark": {"type": "rule", "color": "#e040e0", "strokeWidth": 1},
          "encoding": {"y": {"datum": 66.72}}
        },
        {
          "data": {"name": "trend"},
          "mark": {"type": "line", "color": "#000080", "strokeWidth": 1},
          "encoding": {
            "x": {"field": "d", "type": "ordinal"},
            "y": {"field": "p", "type": "quantitative"}
          }
        }
      ]
    },
    {
      "width": 1412,
      "height": 105,
      "layer": [
        {
          "data": {"values": [{"g": 2422}]},
          "mark": {"type": "rule", "color": "#74f2c0", "strokeWidth": 1},
          "encoding": {"y": {"field": "g", "type": "quantitative"}}
        },
        {
          "data": {"name": "px"},
          "transform": [{"window": [{"op": "lag", "field": "c", "as": "pc"}], "sort": [{"field": "d", "order": "ascending"}]}],
          "mark": {"type": "rule", "strokeWidth": 1},
          "encoding": {
            "x": {
              "field": "d", "type": "ordinal",
              "scale": {"range": [2.8, 1386.6], "paddingInner": 0, "paddingOuter": 0},
              "axis": {
                "title": null, "orient": "bottom", "grid": true, "gridColor": "#74f2c0", "labels": false, "ticks": false,
                "domain": true, "domainColor": "#1f7a5c", "domainWidth": 2,
                "values": ["2025-06-03", "2025-08-01", "2025-10-01", "2025-12-01", "2026-01-02", "2026-03-02", "2026-05-01", "2026-07-01"]
              }
            },
            "y": {
              "field": "v", "type": "quantitative",
              "scale": {"domain": [0, 5180], "nice": false},
              "axis": {
                "title": null, "values": [2422, 4845], "format": ",.0f", "grid": false,
                "labelAlign": "left", "labelPadding": 70, "labelColor": "#97a0b3",
                "labelBaseline": {"condition": {"test": "datum.value > 4000", "value": "top"}, "value": "middle"},
                "labelOffset": {"condition": {"test": "datum.value > 4000", "value": 5}, "value": 0},
                "domain": true, "domainColor": "#1f7a5c"
              }
            },
            "y2": {"datum": 0},
            "color": {"condition": {"test": "datum.pc == null || datum.c >= datum.pc", "value": "#008000"}, "value": "#ff0000"}
          }
        },
        {
          "data": {"values": [{}]},
          "mark": {"type": "rule", "color": "#1f7a5c", "strokeWidth": 1},
          "encoding": {"y": {"datum": 5140}}
        },
        {
          "data": {"values": [{}]},
          "mark": {"type": "text", "align": "left", "baseline": "top", "dx": -3, "dy": 1, "fontSize": 9, "color": "#000000"},
          "encoding": {
            "x": {"datum": "2025-04-22", "type": "ordinal"},
            "y": {"datum": 5180},
            "text": {"value": "66.72"}
          }
        },
        {
          "data": {"values": [{}]},
          "mark": {"type": "text", "align": "left", "baseline": "alphabetic", "dx": 1, "fontSize": 19, "color": "#000000"},
          "encoding": {
            "x": {"datum": "2025-04-22", "type": "ordinal"},
            "y": {"datum": 3860},
            "text": {"value": "Bursagraph.co.il | ORA"}
          }
        }
      ]
    },
    {
      "width": 1412,
      "height": 107,
      "layer": [
        {
          "data": {"values": [{"g": 30}, {"g": 70}]},
          "mark": {"type": "rule", "color": "#74f2c0", "strokeWidth": 1},
          "encoding": {"y": {"field": "g", "type": "quantitative"}}
        },
        {
          "data": {"values": [{}]},
          "mark": {"type": "rule", "color": "#ff0000", "strokeWidth": 1.5, "strokeDash": [13, 8]},
          "encoding": {"y": {"datum": 50}}
        },
        {
          "data": {"name": "px"},
          "transform": [{"filter": "isValid(datum.m)"}],
          "mark": {"type": "line", "color": "#8c8c00", "strokeWidth": 1},
          "encoding": {
            "x": {"field": "d", "type": "ordinal"},
            "y": {"field": "m", "type": "quantitative"}
          }
        },
        {
          "data": {"name": "px"},
          "mark": {"type": "line", "color": "#000000", "strokeWidth": 2.2},
          "encoding": {
            "x": {
              "field": "d", "type": "ordinal",
              "scale": {"range": [2.8, 1386.6], "paddingInner": 0, "paddingOuter": 0},
              "axis": {
                "title": null, "orient": "top", "grid": true, "gridColor": "#74f2c0", "labels": true, "ticks": false, "domain": false,
                "labelAlign": "left", "labelBaseline": "bottom", "labelPadding": -14, "labelAngle": 0,
                "labelFontSize": 11, "labelColor": "#000000", "labelOverlap": false, "labelFlush": false,
                "labelExpr": "datum.value == '2026-01-02' ? '2026' : utcFormat(toDate(datum.value), '%b')",
                "values": ["2025-06-03", "2025-08-01", "2025-10-01", "2025-12-01", "2026-01-02", "2026-03-02", "2026-05-01", "2026-07-01"]
              }
            },
            "y": {
              "field": "r", "type": "quantitative",
              "scale": {"domain": [8.67, 103.8], "nice": false, "zero": false},
              "axis": {
                "title": null, "values": [30, 50, 70], "grid": false,
                "labelAlign": "left", "labelPadding": 69, "labelColor": "#1e1e50",
                "domain": true, "domainColor": "#000000"
              }
            }
          }
        },
        {
          "data": {"values": [{}]},
          "mark": {"type": "text", "align": "left", "baseline": "middle", "dx": -1.5, "fontSize": 9.5, "color": "#1e1e50"},
          "encoding": {
            "x": {"datum": "2025-04-22", "type": "ordinal"},
            "y": {"datum": 87},
            "text": {"value": "RSI 14/14 = 23.4"}
          }
        }
      ]
    }
  ],
  "config": {
    "background": "#e3e3e3",
    "font": "Liberation Sans",
    "view": {"stroke": null},
    "axis": {
      "gridColor": "#74f2c0",
      "gridWidth": 1,
      "ticks": false,
      "tickSize": 0,
      "labelFont": "Liberation Sans",
      "labelFontSize": 10,
      "bandPosition": 0.5
    }
  }
}
